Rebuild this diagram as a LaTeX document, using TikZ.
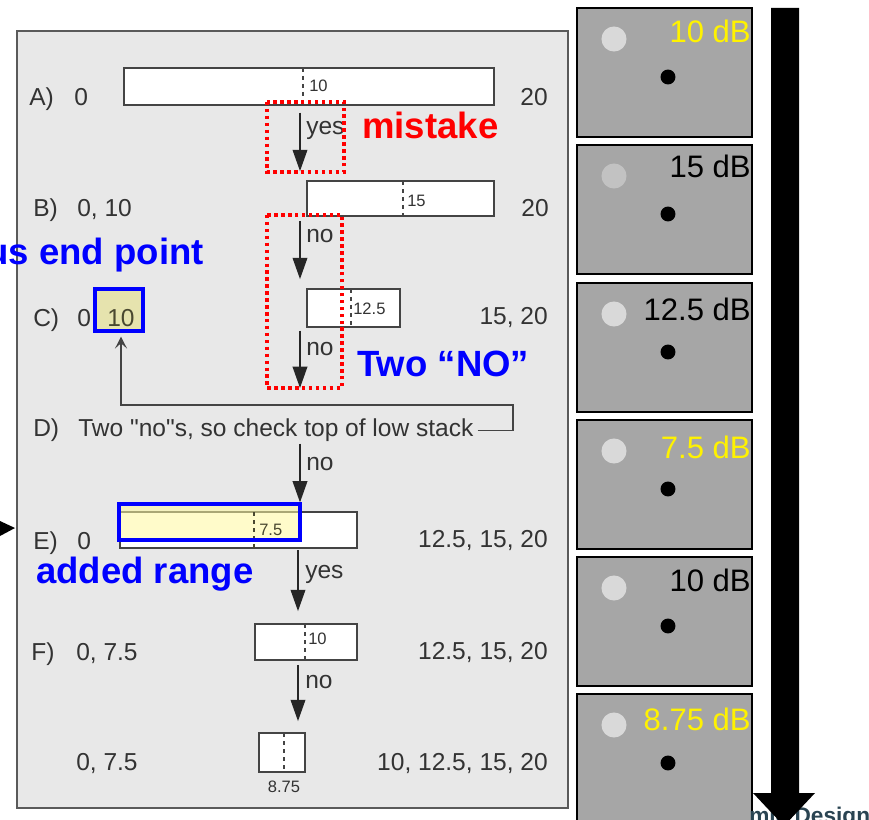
\documentclass[tikz,border=0pt]{standalone}
\usepackage{fontspec}
\setmainfont{Liberation Sans}
\usetikzlibrary{arrows.meta,fit}
\definecolor{pagegray}{HTML}{E8E8E8}
\definecolor{pageedge}{HTML}{5A5A5A}
\definecolor{scanink}{HTML}{333333}
\definecolor{barline}{HTML}{444444}
\definecolor{panelgray}{HTML}{A6A6A6}
\definecolor{lightdot}{HTML}{D9D9D9}
\definecolor{lightdotB}{HTML}{C2C2C2}
\definecolor{hlyellowC}{HTML}{E6E3AE}
\definecolor{hlyellowE}{HTML}{FFF9A0}
\definecolor{designblue}{HTML}{2A4452}
\definecolor{oliveink}{HTML}{4A4830}
\tikzset{
  page/.style={draw=pageedge, line width=1.1pt, fill=pagegray, inner sep=0pt},
  bar/.style={draw=barline, line width=1.3pt, fill=white, inner sep=0pt},
  tickline/.style={draw=barline, line width=1pt, dash pattern=on 3pt off 3pt},
  txt/.style={font=\fontsize{18.4}{20}\selectfont, text=scanink, inner sep=0pt},
  small/.style={font=\fontsize{12.4}{14}\selectfont, text=scanink, inner sep=0pt},
  note/.style={font=\fontsize{27.4}{30}\selectfont\bfseries, inner sep=0pt},
  flow/.style={draw=black!85, line width=1.2pt, -{Triangle[length=16pt,width=11pt]}},
  mistakebox/.style={draw=red, line width=2.4pt, dash pattern=on 2.6pt off 2.6pt},
  bluebox/.style={draw=blue, line width=2.3pt, inner sep=0pt},
  panel/.style={draw=black, line width=1.3pt, fill=panelgray, inner sep=0pt},
  dblabel/.style={font=\fontsize{23.3}{26}\selectfont, anchor=base east, inner sep=0pt},
  bracketline/.style={draw=barline, line width=1.1pt},
}
\begin{document}
\begin{tikzpicture}[x=0.75pt,y=-0.75pt]
\useasboundingbox (0,0) rectangle (869,820);
\clip (0,0) rectangle (869,820);

% scanned page
\node[page, fit={(17,31)(568,808)}] (page) {};

% ---------- bars ----------
\node[bar, fit={(124,68)(494,105)}] (barA) {};
\draw[tickline] (303,68) -- (303,105);
\node[small, anchor=base west] (nA) at (309,92) {10};

\node[bar, fit={(307,181)(494,216)}] (barB) {};
\draw[tickline] (403,181) -- (403,216);
\node[small, anchor=base west] (nB) at (407,207) {15};

\node[bar, fit={(307,289)(400,327)}] (barC) {};
\draw[tickline] (351,289) -- (351,327);
\node[small, anchor=base west] (nC) at (353,315) {12.5};

\node[bar, fit={(120,512)(357,548)}] (barE) {};
\fill[hlyellowE, opacity=0.55] (119,504) rectangle (300,540);
\draw[tickline, draw=oliveink] (254,512) -- (254,548);
\node[small, text=oliveink, anchor=base west] (nE) at (259,536) {7.5};
\node[bluebox, fit={(119,504)(300,540)}] (hlE) {};

\node[bar, fit={(255,624)(357,660)}] (barF) {};
\draw[tickline] (305,624) -- (305,660);
\node[small, anchor=base west] (nF) at (308,644) {10};

\node[bar, fit={(259,733)(305,772)}] (barG) {};
\draw[tickline] (284,733) -- (284,772);
\node[small, anchor=base] (nG) at (284,792) {8.75};

% ---------- row labels ----------
\node[txt, anchor=base west] (lA) at (29,106) {A)};
\node[txt, anchor=base west] (vA) at (74,106) {0};
\node[txt, anchor=base east] (rA) at (548,106) {20};

\node[txt, anchor=base west] (lB) at (33,217) {B)};
\node[txt, anchor=base west] (vB) at (77,217) {0, 10};
\node[txt, anchor=base east] (rB) at (549,217) {20};

\node[txt, anchor=base west] (lC) at (33,327) {C)};
\node[txt, anchor=base west] (vC) at (77,327) {0};
\node[bluebox, fill=hlyellowC, fit={(95,289)(143,331)}] (hlC) {};
\node[txt, text=oliveink, anchor=base west] (vC2) at (107,327) {10};
\node[txt, anchor=base east] (rC) at (548,325) {15, 20};

\node[txt, anchor=base west] (lD) at (33,437) {D)};
\node[txt, anchor=base west] (dtext) at (78,437) {Two \textquotedbl no\textquotedbl s, so check top of low stack};

\node[txt, anchor=base west] (lE) at (33,549) {E)};
\node[txt, anchor=base west] (vE) at (77,549) {0};
\node[txt, anchor=base east] (rE) at (548,547) {12.5, 15, 20};

\node[txt, anchor=base west] (lF) at (31,660) {F)};
\node[txt, anchor=base west] (vF) at (76,660) {0, 7.5};
\node[txt, anchor=base east] (rF) at (548,659) {12.5, 15, 20};

\node[txt, anchor=base west] (vG) at (76,770) {0, 7.5};
\node[txt, anchor=base east] (rG) at (548,770) {10, 12.5, 15, 20};

% ---------- flow arrows ----------
\coordinate (ax) at (300,0);
\coordinate (ax2) at (298,0);
\coordinate (cD) at (300,388);
\draw[flow, shorten <=5pt, shorten >=6.75pt] (barA.south -| ax) -- (barB.north -| ax);
\draw[flow, shorten <=3pt, shorten >=6.75pt] (barB.south -| ax) -- (barC.north -| ax);
\draw[flow, shorten <=2pt] (barC.south -| ax) -- (cD);
\draw[flow, shorten <=1pt] (dtext.south -| ax) -- (hlE.north -| ax);
\draw[flow, shorten <=1pt, shorten >=9pt] (barE.south -| ax2) -- (barF.north -| ax2);
\draw[flow, shorten <=3pt, shorten >=8.25pt] (barF.south -| ax2) -- (barG.north -| ax2);

\node[txt, anchor=base west] (yAB) at (306,135) {yes};
\node[txt, anchor=base west] (nBC) at (306,243) {no};
\node[txt, anchor=base west] (nCD) at (306,356) {no};
\node[txt, anchor=base west] (nDE) at (306,470) {no};
\node[txt, anchor=base west] (yEF) at (305,578) {yes};
\node[txt, anchor=base west] (nFG) at (305,688) {no};

% bracket back to low stack
\coordinate (brk) at (513,405);
\coordinate (upx) at (121,0);
\draw[bracketline, -{Stealth[length=9pt,width=9pt,inset=4pt]}, shorten >=3pt]
  ([xshift=3pt]dtext.east) -| (brk) -| (hlC.south -| upx);

% ---------- annotations ----------
\draw[mistakebox] (267,102) rectangle (344,172);
\draw[mistakebox] (267,215) rectangle (342,388);
\node[note, text=red, anchor=base west] (mist) at (362,139) {mistake};
\node[note, text=blue, anchor=base east] (prev) at (204,265) {us end point};
\node[note, text=blue, anchor=base west] (twono) at (357,377) {Two “NO”};
\node[note, text=blue, anchor=base west] (added) at (36,583) {added range};
\fill[black] (0,521) -- (15,528) -- (0,536) -- cycle;

% ---------- right panels ----------
\foreach \idx/\ptop/\lab/\col/\bl/\dotc in {
  1/8/10 dB/yellow/43/lightdot,
  2/145/15 dB/black/178/lightdotB,
  3/283/12.5 dB/black/321/lightdot,
  4/420/7.5 dB/yellow/459/lightdot,
  5/557/10 dB/black/591/lightdot,
  6/694/8.75 dB/yellow/730/lightdot}{
  \node[panel, fit={(577,\ptop)(752,\ptop+129)}] (panel\idx) {};
  \fill[\dotc] (614,\ptop+31) circle (9.4pt);
  \fill[black] (668,\ptop+69) circle (5.6pt);
  \node[dblabel, text=\col] (db\idx) at (751,\bl) {\lab};
}

% brand text behind the big arrow
\node[font=\fontsize{17}{20}\selectfont\bfseries, text=designblue, anchor=base west, inner sep=0pt] (brand) at (749,823) {mic Design};

% big downward arrow
\fill[black] (771,8) -- (799,8) -- (799,793) -- (815,793) -- (784,826) -- (753,793) -- (771,793) -- cycle;
\end{tikzpicture}
\end{document}
